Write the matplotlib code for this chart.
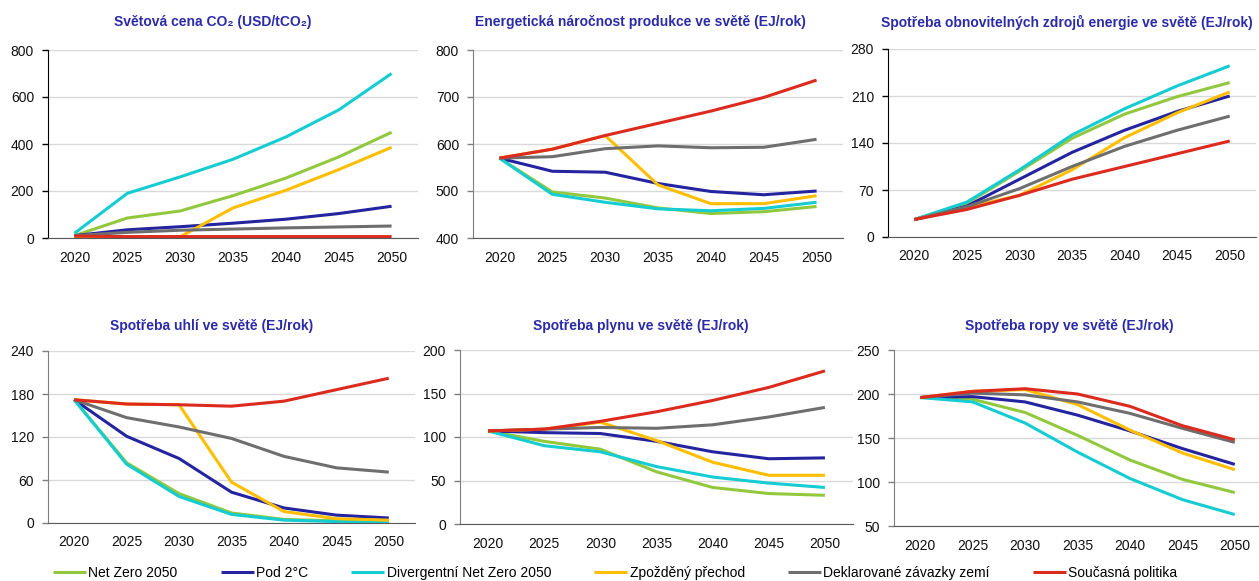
import matplotlib
matplotlib.use('Agg')
import matplotlib.pyplot as plt

plt.rcParams['font.family'] = ['Liberation Sans', 'DejaVu Sans']

years = [2020, 2025, 2030, 2035, 2040, 2045, 2050]

scenarios = ['Net Zero 2050', 'Pod 2°C', 'Divergentní Net Zero 2050',
             'Zpožděný přechod', 'Deklarované závazky zemí', 'Současná politika']
colors = ['#92C83E', '#2424A0', '#14CCD2', '#FFBE00', '#6E6E6E', '#DC2A1E']

# CO2 price (USD/tCO2)
co2_nz = [10, 85, 115, 180, 255, 345, 450]
co2_b2 = [10, 35, 48, 63, 80, 104, 135]
co2_div = [20, 190, 260, 335, 430, 545, 700]
co2_del = [5, 5, 5, 128, 203, 291, 386]
co2_ndc = [10, 24, 33, 38, 43, 47, 51]
co2_cur = [8, 6, 6, 6, 6, 6, 6]

# energy demand (EJ/rok)
en_nz = [570, 498, 485, 464, 452, 456, 467]
en_b2 = [570, 542, 540, 516, 499, 492, 500]
en_div = [570, 493, 476, 462, 458, 463, 476]
en_del = [570, 589, 618, 513, 473, 473, 490]
en_ndc = [570, 573, 590, 596, 592, 593, 610]
en_cur = [570, 589, 618, 644, 670, 699, 736]

# renewables (EJ/rok)
ren_nz = [26, 50, 98, 147, 183, 209, 230]
ren_b2 = [26, 46, 86, 126, 159, 187, 210]
ren_div = [26, 52, 100, 152, 191, 225, 255]
ren_del = [26, 44, 62, 100, 148, 185, 216]
ren_ndc = [26, 45, 72, 105, 135, 159, 180]
ren_cur = [26, 41, 62, 86, 105, 124, 143]

# coal (EJ/rok)
coal_nz = [172, 84, 41, 14, 5, 3, 2]
coal_b2 = [172, 121, 90, 43, 21, 11, 7]
coal_div = [172, 82, 37, 12, 4, 2, 1]
coal_del = [172, 166, 165, 57, 16, 6, 4]
coal_ndc = [172, 147, 134, 118, 93, 77, 71]
coal_cur = [172, 166, 165, 163, 170, 186, 202]

# gas (EJ/rok)
gas_nz = [107, 95, 86, 60, 42, 35, 33]
gas_b2 = [107, 105, 104, 95, 83, 75, 76]
gas_div = [107, 90, 83, 66, 54, 47, 42]
gas_del = [107, 109, 117, 96, 71, 56, 56]
gas_ndc = [107, 109, 111, 110, 114, 123, 134]
gas_cur = [107, 109, 118, 129, 142, 157, 176]

# oil (EJ/rok)
oil_nz = [196, 194, 179, 153, 125, 103, 88]
oil_b2 = [196, 197, 191, 176, 158, 138, 120]
oil_div = [196, 191, 167, 134, 104, 80, 63]
oil_del = [196, 203, 205, 188, 159, 133, 114]
oil_ndc = [196, 201, 199, 191, 178, 161, 145]
oil_cur = [196, 203, 206, 200, 186, 164, 148]

panels = [
    ('Světová cena CO₂ (USD/tCO₂)', [co2_nz, co2_b2, co2_div, co2_del, co2_ndc, co2_cur],
     [0, 200, 400, 600, 800], [48, 50, 418, 238], 213, 22, 'black'),
    ('Energetická náročnost produkce ve světě (EJ/rok)', [en_nz, en_b2, en_div, en_del, en_ndc, en_cur],
     [400, 500, 600, 700, 800], [473, 50, 843, 238], 640, 22, '#7F7F7F'),
    ('Spotřeba obnovitelných zdrojů energie ve světě (EJ/rok)', [ren_nz, ren_b2, ren_div, ren_del, ren_ndc, ren_cur],
     [0, 70, 140, 210, 280], [888, 49, 1256, 237], 1067, 22, 'black'),
    ('Spotřeba uhlí ve světě (EJ/rok)', [coal_nz, coal_b2, coal_div, coal_del, coal_ndc, coal_cur],
     [0, 60, 120, 180, 240], [48, 351, 415, 523], 212, 326, '#7F7F7F'),
    ('Spotřeba plynu ve světě (EJ/rok)', [gas_nz, gas_b2, gas_div, gas_del, gas_ndc, gas_cur],
     [0, 50, 100, 150, 200], [460, 350, 853, 524], 641, 326, '#7F7F7F'),
    ('Spotřeba ropy ve světě (EJ/rok)', [oil_nz, oil_b2, oil_div, oil_del, oil_ndc, oil_cur],
     [50, 100, 150, 200, 250], [894, 350, 1261, 526], 1069, 326, '#7F7F7F'),
]

W, H = 1259, 581
fig = plt.figure(figsize=(W / 100, H / 100), dpi=100)

for title, series, yticks, box, tx, ty, spine_col in panels:
    x0, y0, x1, y1 = box
    ax = fig.add_axes([x0 / W, 1 - y1 / H, (x1 - x0) / W, (y1 - y0) / H])
    for vals, c, name in zip(series, colors, scenarios):
        ax.plot(years, vals, color=c, lw=2.2, label=name, solid_capstyle='butt')
    ax.set_xlim(2017.5, 2052.5)
    ax.set_ylim(yticks[0], yticks[-1])
    ax.set_yticks(yticks)
    ax.set_xticks(years)
    ax.grid(axis='y', color='#D9D9D9', lw=1)
    ax.set_axisbelow(True)
    for s in ['top', 'right']:
        ax.spines[s].set_visible(False)
    ax.spines['left'].set_color(spine_col)
    ax.spines['bottom'].set_color('#595959')
    ax.tick_params(axis='y', length=4, width=1, color=spine_col, pad=6, labelsize=10, labelcolor='#111111')
    ax.tick_params(axis='x', length=0, pad=9, labelsize=10, labelcolor='#111111')
    fig.text(tx / W, 1 - ty / H, title, ha='center', va='center', fontsize=10,
             fontweight='bold', color='#2B2BAA')

handles, labels = fig.axes[0].get_legend_handles_labels()
fig.legend(handles, labels, loc='center', bbox_to_anchor=(615 / W, 1 - 573 / H), ncol=6,
           frameon=False, fontsize=10, handlelength=2.4, handletextpad=0.15,
           columnspacing=3.1, borderpad=0)

fig.savefig('out.png', dpi=100)
